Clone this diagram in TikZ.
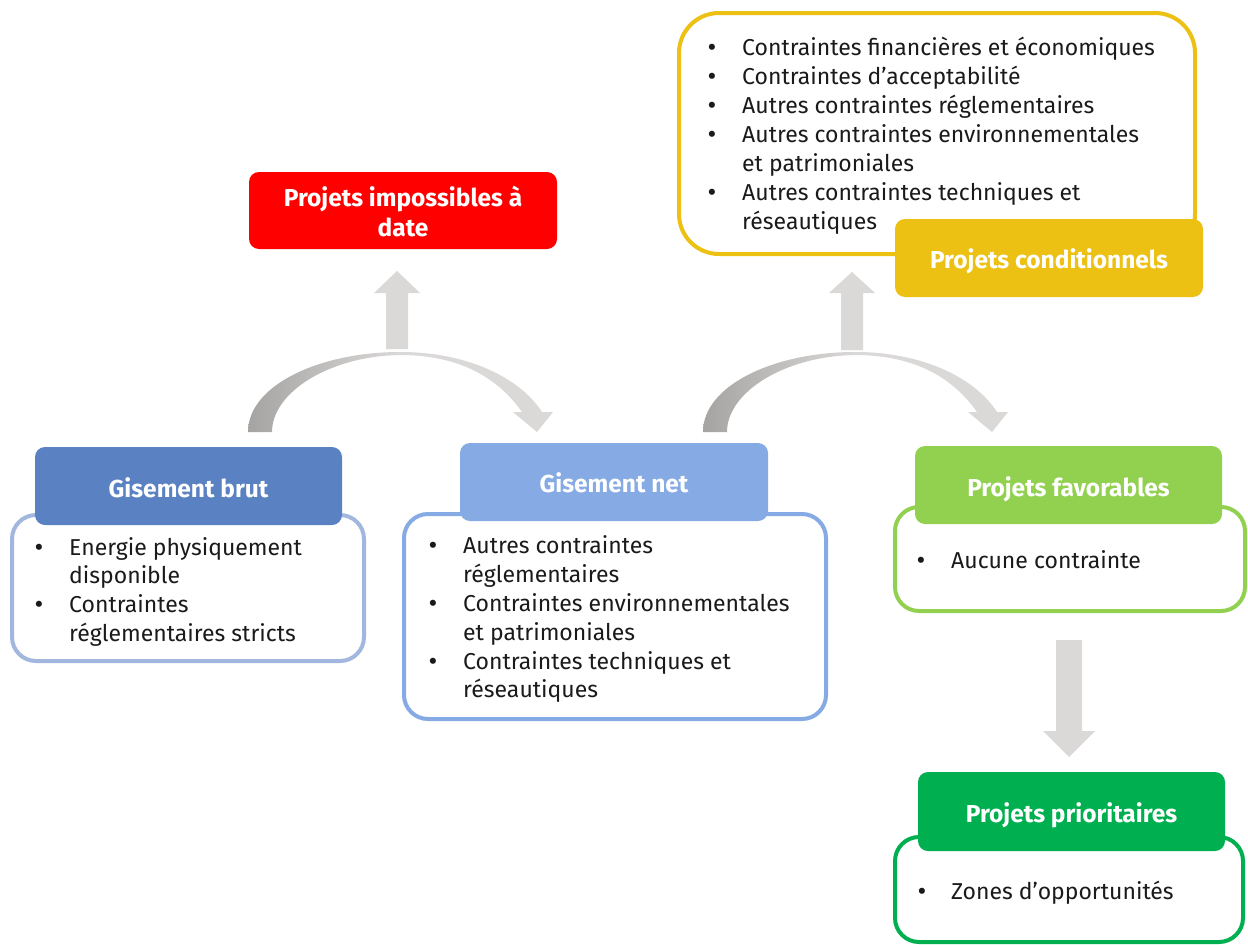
\documentclass[tikz,border=0pt]{standalone}
\usepackage{fontspec}
\setmainfont{Fira Sans}
\definecolor{cred}{HTML}{FF0000}
\definecolor{cblue}{HTML}{5A82C2}
\definecolor{cblueL}{HTML}{A2B7DE}
\definecolor{cblueM}{HTML}{86AAE4}
\definecolor{cgreenL}{HTML}{92D050}
\definecolor{cgreen}{HTML}{00B050}
\definecolor{cyellow}{HTML}{ECC113}
\definecolor{carrow}{HTML}{DBD8D8}
\definecolor{carrowD}{HTML}{A6A3A3}
\definecolor{ctext}{HTML}{1A1A1A}
\tikzset{
  hdrbox/.style={rectangle, rounded corners=10pt, draw=none, inner sep=0pt},
  bodybox/.style={rectangle, rounded corners=24pt, line width=4pt, fill=white, inner sep=0pt},
  hdrtext/.style={anchor=base, text=white, inner sep=0pt, font=\fontsize{24.5}{29}\selectfont\bfseries},
  itemtext/.style={anchor=base west, text=ctext, inner sep=0pt, font=\fontsize{23}{28}\selectfont},
  bullettext/.style={anchor=base, text=ctext, inner sep=0pt, font=\fontsize{27}{28}\selectfont},
  grayarrow/.style={fill=carrow, draw=none},
}
\newcommand\mycurvedarrow{%
  \shade[left color=carrowD, right color=carrow, middle color=carrow]
    (248,432) .. controls (248,385) and (320,352) .. (400,352)
    .. controls (468,352) and (520,378) .. (542,412)
    -- (553,412) -- (537,432) -- (513,412) -- (522,412)
    .. controls (498,378) and (460,355) .. (400,355)
    .. controls (330,356) and (272,392) .. (272,432) -- cycle;
}
\begin{document}
\begin{tikzpicture}[x=1pt, y=-1pt]
\useasboundingbox[fill=white] (0,0) rectangle (1248,945);

% curved arrows
\mycurvedarrow
\begin{scope}[xshift=455pt]
\mycurvedarrow
\end{scope}

% up arrows
\fill[grayarrow] (386,349) -- (386,293) -- (374,293) -- (397,271) -- (420,293) -- (408,293) -- (408,349) -- cycle;
\fill[grayarrow] (841,350) -- (841,293) -- (829,293) -- (852,272) -- (875,293) -- (863,293) -- (863,350) -- cycle;
% down arrow
\fill[grayarrow] (1056,640) -- (1056,731) -- (1043,731) -- (1069,757) -- (1095,731) -- (1082,731) -- (1082,640) -- cycle;

% Projets impossibles
\node[hdrbox, fill=cred, minimum width=308pt, minimum height=77pt] (imp) at (403,210.5) {};
\node[hdrtext] (impA) at (403,206) {Projets impossibles à};
\node[hdrtext] (impB) at (403,236) {date};

% Gisement brut
\node[bodybox, draw=cblueL, minimum width=352pt, minimum height=146pt] (gbB) at (188,588) {};
\node[hdrbox, fill=cblue, minimum width=307pt, minimum height=78pt] (gbH) at (188.5,486) {};
\node[hdrtext] (gbT) at (188.5,497) {Gisement brut};
\node[bullettext] (gb1) at (39,556) {•};
\node[itemtext] (gb1a) at (69,555) {Energie physiquement};
\node[itemtext] (gb1b) at (69,583) {disponible};
\node[bullettext] (gb2) at (39,613) {•};
\node[itemtext] (gb2a) at (69,612) {Contraintes};
\node[itemtext] (gb2b) at (69,641) {réglementaires stricts};

% Gisement net
\node[bodybox, draw=cblueM, minimum width=422pt, minimum height=205pt] (gnB) at (615,616.5) {};
\node[hdrbox, fill=cblueM, minimum width=308pt, minimum height=78pt] (gnH) at (614,482) {};
\node[hdrtext] (gnT) at (614,492) {Gisement net};
\node[bullettext] (gn1) at (433,554) {•};
\node[itemtext] (gn1a) at (463,553) {Autres contraintes};
\node[itemtext] (gn1b) at (463,582) {réglementaires};
\node[bullettext] (gn2) at (433,612) {•};
\node[itemtext] (gn2a) at (463,611) {Contraintes environnementales};
\node[itemtext] (gn2b) at (463,640) {et patrimoniales};
\node[bullettext] (gn3) at (433,670) {•};
\node[itemtext] (gn3a) at (463,669) {Contraintes techniques et};
\node[itemtext] (gn3b) at (463,697) {réseautiques};

% Projets favorables
\node[bodybox, draw=cgreenL, minimum width=350pt, minimum height=104pt] (pfB) at (1070,559) {};
\node[hdrbox, fill=cgreenL, minimum width=307pt, minimum height=78pt] (pfH) at (1068.5,485) {};
\node[hdrtext] (pfT) at (1068.5,496) {Projets favorables};
\node[bullettext] (pf1) at (921,569) {•};
\node[itemtext] (pf1a) at (951,568) {Aucune contrainte};

% Projets prioritaires
\node[bodybox, draw=cgreen, minimum width=348pt, minimum height=105pt] (ppB) at (1069,889.5) {};
\node[hdrbox, fill=cgreen, minimum width=307pt, minimum height=79pt] (ppH) at (1071.5,811.5) {};
\node[hdrtext] (ppT) at (1071.5,822) {Projets prioritaires};
\node[bullettext] (pp1) at (922,900) {•};
\node[itemtext] (pp1a) at (951,899) {Zones d’opportunités};

% Projets conditionnels
\node[bodybox, rounded corners=40pt, draw=cyellow, minimum width=516pt, minimum height=241pt] (pcB) at (937,133.5) {};
\node[hdrbox, fill=cyellow, minimum width=308pt, minimum height=78pt] (pcH) at (1049,258) {};
\node[hdrtext] (pcT) at (1049,268) {Projets conditionnels};
\node[bullettext] (pc1) at (712,56) {•};
\node[itemtext] (pc1a) at (742,55) {Contraintes financières et économiques};
\node[bullettext] (pc2) at (712,85) {•};
\node[itemtext] (pc2a) at (742,84) {Contraintes d’acceptabilité};
\node[bullettext] (pc3) at (712,114) {•};
\node[itemtext] (pc3a) at (742,113) {Autres contraintes réglementaires};
\node[bullettext] (pc4) at (712,143) {•};
\node[itemtext] (pc4a) at (742,142) {Autres contraintes environnementales};
\node[itemtext] (pc4b) at (742,171) {et patrimoniales};
\node[bullettext] (pc5) at (712,201) {•};
\node[itemtext] (pc5a) at (742,200) {Autres contraintes techniques et};
\node[itemtext] (pc5b) at (742,229) {réseautiques};
\end{tikzpicture}
\end{document}
